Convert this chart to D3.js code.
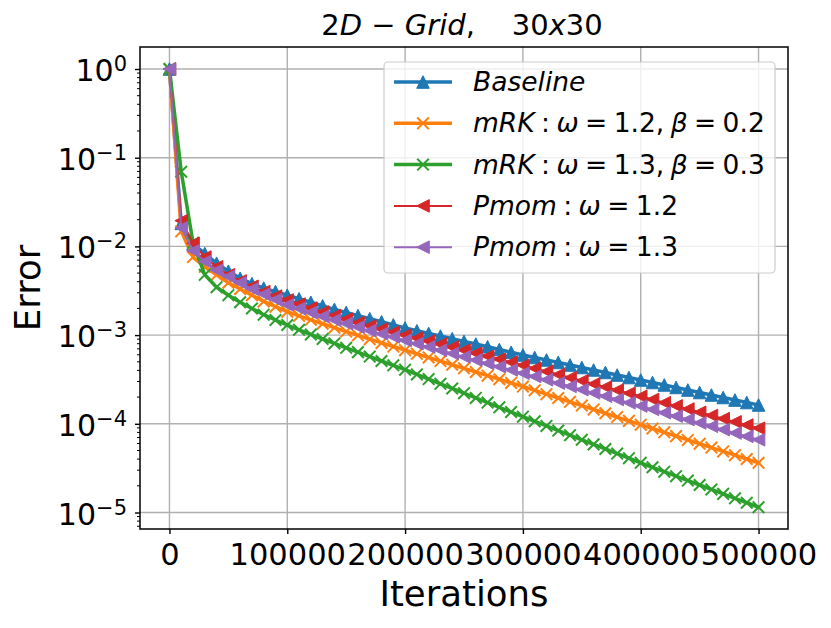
<!DOCTYPE html>
<html><head><meta charset="utf-8">
<script src="https://cdn.jsdelivr.net/npm/d3@7/dist/d3.min.js"></script>
<style>
body{margin:0;background:#fff}
svg{display:block}
text{font-family:"DejaVu Sans";fill:#000}
</style>
</head><body>
<svg id="chart" width="831" height="628"></svg>
<script>
// ---------------- data ----------------
const iterations = [0,10000,20000,30000,40000,50000,60000,70000,80000,90000,100000,
 110000,120000,130000,140000,150000,160000,170000,180000,190000,200000,
 210000,220000,230000,240000,250000,260000,270000,280000,290000,300000,
 310000,320000,330000,340000,350000,360000,370000,380000,390000,400000,
 410000,420000,430000,440000,450000,460000,470000,480000,490000,500000];

// log10(Error)
const baselineLog10 = [0,-1.74,-1.97,-2.08,-2.19,-2.28,-2.36,-2.42,-2.47,-2.51,-2.55,
 -2.59,-2.63,-2.67,-2.71,-2.745,-2.78,-2.815,-2.85,-2.885,-2.92,
 -2.951,-2.981,-3.011,-3.041,-3.071,-3.101,-3.132,-3.163,-3.194,-3.224,
 -3.252,-3.28,-3.308,-3.337,-3.365,-3.393,-3.421,-3.45,-3.478,-3.506,
 -3.534,-3.562,-3.59,-3.619,-3.647,-3.675,-3.703,-3.732,-3.76,-3.788];
const mrk12Log10 = [0,-1.83,-2.12,-2.23,-2.32,-2.41,-2.48,-2.55,-2.62,-2.68,-2.736,
 -2.783,-2.828,-2.872,-2.916,-2.96,-3.003,-3.046,-3.088,-3.129,-3.17,
 -3.211,-3.252,-3.293,-3.334,-3.375,-3.416,-3.457,-3.498,-3.539,-3.58,
 -3.623,-3.666,-3.709,-3.752,-3.795,-3.838,-3.881,-3.924,-3.967,-4.01,
 -4.053,-4.096,-4.139,-4.182,-4.225,-4.268,-4.311,-4.354,-4.397,-4.44];
const mrk13Log10 = [0,-1.158,-1.96,-2.32,-2.46,-2.55,-2.63,-2.70,-2.77,-2.83,-2.886,
 -2.94,-2.993,-3.044,-3.094,-3.143,-3.192,-3.242,-3.292,-3.341,-3.39,
 -3.443,-3.496,-3.549,-3.602,-3.655,-3.708,-3.761,-3.814,-3.867,-3.92,
 -3.972,-4.024,-4.076,-4.128,-4.18,-4.232,-4.284,-4.336,-4.388,-4.44,
 -4.49,-4.54,-4.59,-4.64,-4.69,-4.74,-4.79,-4.84,-4.89,-4.94];
const pmom12Log10 = [0,-1.71,-1.965,-2.12,-2.23,-2.32,-2.39,-2.45,-2.51,-2.56,-2.604,
 -2.65,-2.695,-2.74,-2.78,-2.82,-2.86,-2.895,-2.93,-2.965,-3.0,
 -3.034,-3.068,-3.102,-3.136,-3.17,-3.204,-3.238,-3.272,-3.306,-3.34,
 -3.375,-3.41,-3.445,-3.48,-3.515,-3.55,-3.585,-3.62,-3.655,-3.69,
 -3.726,-3.762,-3.798,-3.834,-3.87,-3.906,-3.942,-3.978,-4.014,-4.05];
const pmom13Log10 = [0,-1.79,-2.05,-2.17,-2.27,-2.34,-2.41,-2.48,-2.54,-2.6,-2.66,
 -2.7,-2.745,-2.79,-2.83,-2.87,-2.91,-2.95,-2.985,-3.02,-3.06,
 -3.097,-3.134,-3.171,-3.208,-3.245,-3.282,-3.319,-3.356,-3.393,-3.43,
 -3.467,-3.504,-3.541,-3.578,-3.615,-3.652,-3.689,-3.726,-3.763,-3.8,
 -3.838,-3.876,-3.914,-3.952,-3.99,-4.028,-4.066,-4.104,-4.142,-4.18];

const xTickValues = [0,100000,200000,300000,400000,500000];
const xTickLabels = ["0","100000","200000","300000","400000","500000"];
const yTickExponents = [0,-1,-2,-3,-4,-5];

// legend labels as (text, italic) runs
const legendLabels = [
  [["Baseline",true]],
  [["mRK",true],[" : ",false],["ω",true],[" = 1.2, ",false],["β",true],[" = 0.2",false]],
  [["mRK",true],[" : ",false],["ω",true],[" = 1.3, ",false],["β",true],[" = 0.3",false]],
  [["Pmom",true],[" : ",false],["ω",true],[" = 1.2",false]],
  [["Pmom",true],[" : ",false],["ω",true],[" = 1.3",false]]
];
const titleRuns = [["2",false],["D",true],[" − ",false],["Grid",true],[",    30",false],["x",true],["30",false]];
const xLabel = "Iterations";
const yLabel = "Error";

// ---------------- chart ----------------
const L = 140, R = 788, T = 47, B = 529;
const svg = d3.select("#chart");

const x = d3.scaleLinear().domain([-25000, 525000]).range([L, R]);
const y = d3.scaleLog().domain([Math.pow(10,-5.186), Math.pow(10,0.248)]).range([B, T]);

const series = [
  {data: baselineLog10, color:"#1f77b4", marker:"^", lw:3.5},
  {data: mrk12Log10,   color:"#ff7f0e", marker:"x", lw:3.5},
  {data: mrk13Log10,   color:"#2ca02c", marker:"x", lw:3.5},
  {data: pmom12Log10,  color:"#d62728", marker:"<", lw:2},
  {data: pmom13Log10,  color:"#9467bd", marker:"<", lw:2}
];

// grid
const grid = svg.append("g");
xTickValues.forEach(v => grid.append("line")
  .attr("x1", x(v)).attr("x2", x(v)).attr("y1", T).attr("y2", B)
  .attr("stroke", "#b0b0b0").attr("stroke-width", 1.4));
yTickExponents.forEach(e => grid.append("line")
  .attr("x1", L).attr("x2", R).attr("y1", y(Math.pow(10,e))).attr("y2", y(Math.pow(10,e)))
  .attr("stroke", "#b0b0b0").attr("stroke-width", 1.4));

function markerPath(type, h) {
  if (type === "^") return `M0,${-h}L${h},${h}L${-h},${h}Z`;
  if (type === "<") return `M${-h},0L${h},${-h}L${h},${h}Z`;
  return `M${-h},${-h}L${h},${h}M${-h},${h}L${h},${-h}`;
}
function drawMarker(g, type, color, cx, cy) {
  if (type === "x") {
    g.append("path").attr("d", markerPath("x", 5.8))
      .attr("transform", `translate(${cx},${cy})`)
      .attr("fill", "none").attr("stroke", color).attr("stroke-width", 2);
  } else {
    g.append("path").attr("d", markerPath(type, 6.3))
      .attr("transform", `translate(${cx},${cy})`)
      .attr("fill", color).attr("stroke", color).attr("stroke-width", 1);
  }
}

const plot = svg.append("g");
series.forEach(s => {
  const pts = iterations.map((it, i) => [x(it), y(Math.pow(10, s.data[i]))]);
  const g = plot.append("g");
  g.append("path").attr("d", d3.line()(pts))
    .attr("fill", "none").attr("stroke", s.color).attr("stroke-width", s.lw)
    .attr("stroke-linejoin", "round").attr("stroke-linecap", "square");
  pts.forEach(p => drawMarker(g, s.marker, s.color, p[0], p[1]));
});

// axes
const xAxis = d3.axisBottom(x).tickValues(xTickValues).tickFormat((d,i) => xTickLabels[i]).tickSize(5).tickPadding(6);
const gx = svg.append("g").attr("transform", `translate(0,${B})`).call(xAxis);
gx.select(".domain").remove();
gx.selectAll(".tick line").attr("stroke", "#000").attr("stroke-width", 1.4);
gx.selectAll(".tick text").attr("font-size", 30.5).attr("font-family", "DejaVu Sans").attr("dy", null).attr("y", 36);

const yAxis = d3.axisLeft(y).tickValues(yTickExponents.map(e => Math.pow(10, e))).tickFormat("").tickSize(5);
const gy = svg.append("g").attr("transform", `translate(${L},0)`).call(yAxis);
gy.select(".domain").remove();
gy.selectAll(".tick line").attr("stroke", "#000").attr("stroke-width", 1.4);
// minor ticks
const minor = [];
for (let e = -6; e <= 0; e++) for (let m = 2; m <= 9; m++) {
  const v = m * Math.pow(10, e);
  if (y(v) >= T && y(v) <= B) minor.push(v);
}
svg.append("g").selectAll("line").data(minor).join("line")
  .attr("x1", L - 3).attr("x2", L).attr("y1", d => y(d)).attr("y2", d => y(d))
  .attr("stroke", "#000").attr("stroke-width", 1);
// y tick labels
yTickExponents.forEach(e => {
  const t = svg.append("text").attr("x", L - 13).attr("y", y(Math.pow(10,e)) + 12)
    .attr("text-anchor", "end").attr("font-size", 30);
  t.append("tspan").text("10");
  t.append("tspan").attr("font-size", 21).attr("dy", -10).text(e === 0 ? "0" : "−" + Math.abs(e));
});

// frame
svg.append("rect").attr("x", L).attr("y", T).attr("width", R - L).attr("height", B - T)
  .attr("fill", "none").attr("stroke", "#000").attr("stroke-width", 1.5);

// axis labels
svg.append("text").attr("x", (L + R) / 2).attr("y", 606).attr("text-anchor", "middle")
  .attr("font-size", 35.5).text(xLabel);
svg.append("text").attr("transform", `translate(40,${(T + B) / 2}) rotate(-90)`)
  .attr("text-anchor", "middle").attr("font-size", 35.5).text(yLabel);

// title
const title = svg.append("text").attr("x", 462).attr("y", 35).attr("text-anchor", "middle")
  .attr("font-size", 29).style("white-space", "pre");
titleRuns.forEach(r => title.append("tspan").attr("font-style", r[1] ? "italic" : "normal").text(r[0]));

// legend
const lg = svg.append("g");
lg.append("rect").attr("x", 384).attr("y", 62).attr("width", 391).attr("height", 211)
  .attr("rx", 4).attr("fill", "#fff").attr("fill-opacity", 0.8)
  .attr("stroke", "#cccccc").attr("stroke-width", 1.2);
legendLabels.forEach((runs, i) => {
  const cy = 82 + i * 41.3;
  const s = series[i];
  lg.append("line").attr("x1", 394).attr("x2", 452).attr("y1", cy).attr("y2", cy)
    .attr("stroke", s.color).attr("stroke-width", s.lw);
  drawMarker(lg, s.marker, s.color, 423, cy);
  const t = lg.append("text").attr("x", 473).attr("y", cy + 9).attr("font-size", 26.5)
    .attr("word-spacing", -2).style("white-space", "pre");
  runs.forEach(r => t.append("tspan").attr("font-style", r[1] ? "italic" : "normal").text(r[0]));
});
</script>
</body></html>
